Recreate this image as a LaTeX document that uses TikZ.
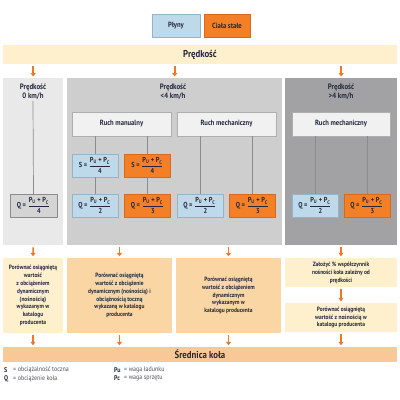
\documentclass[tikz,border=0pt]{standalone}
\usepackage{amsmath}
\usepackage{fontspec}
\setmainfont{PT Sans}[FakeStretch=0.88]
\usetikzlibrary{
  arrows.meta,
  positioning
}
\definecolor{ink}{RGB}{35,40,60}
\definecolor{plyn}{RGB}{190,218,234}
\definecolor{plyndraw}{RGB}{150,180,200}
\definecolor{stal}{RGB}{243,128,38}
\definecolor{staldraw}{RGB}{215,105,30}
\definecolor{pale}{RGB}{254,240,205}
\definecolor{peach}{RGB}{251,214,165}
\definecolor{sred}{RGB}{250,200,150}
\definecolor{colA}{RGB}{233,233,233}
\definecolor{colB}{RGB}{206,206,206}
\definecolor{colC}{RGB}{162,162,165}
\definecolor{ruchfill}{RGB}{241,241,241}
\definecolor{ruchdraw}{RGB}{175,175,175}
\definecolor{qgray}{RGB}{212,212,212}
\definecolor{wire}{RGB}{140,140,140}
\definecolor{arrow}{RGB}{236,120,40}
\definecolor{legtext}{RGB}{80,80,95}
\newcommand{\pu}{P\textsubscript{U}}
\newcommand{\pc}{P\textsubscript{C}}
\newcommand{\frm}[2]{#1 = $\genfrac{}{}{0.4pt}{0}{\text{\pu{} + \pc}}{\text{#2}}$}

\tikzset{
  txt/.style={text=ink, font=\bfseries\fontsize{7.5}{9}\selectfont},
  band/.style={txt, font=\bfseries\fontsize{10}{12}\selectfont, minimum width=394pt, inner sep=0pt},
  colbox/.style={inner sep=0pt, anchor=north west},
  head/.style={txt, align=center, font=\bfseries\fontsize{7.8}{9.5}\selectfont},
  ruch/.style={txt, draw=ruchdraw, fill=ruchfill, minimum width=99pt, minimum height=24pt, inner sep=0pt},
  fbox/.style={text=ink, font=\bfseries\fontsize{7.2}{7.5}\selectfont, minimum width=46pt, minimum height=23pt, inner sep=0pt},
  plynbox/.style={fbox, draw=plyndraw, fill=plyn},
  stalbox/.style={fbox, draw=staldraw, fill=stal},
  note/.style={text=ink, font=\bfseries\fontsize{6.2}{7.9}\selectfont, align=center, inner sep=0pt},
  wirel/.style={draw=wire, line width=0.7pt},
  arr/.style={-{Triangle[width=5pt,length=3.5pt]}, line width=1.6pt, draw=arrow, shorten <=2pt, shorten >=1.5pt},
  legk/.style={text=ink, font=\bfseries\fontsize{6.8}{8}\selectfont, anchor=west, inner sep=0pt},
  legv/.style={text=legtext, font=\fontsize{6.8}{8}\selectfont, anchor=west, inner sep=0pt}
}

\begin{document}
\begin{tikzpicture}[x=1pt, y=-1pt]
  \useasboundingbox[fill=white] (0,0) rectangle (400,400);

  % legend on top
  \node[txt, draw=plyndraw, fill=plyn, minimum width=48pt, minimum height=23pt, inner sep=0pt] (plyny) at (176,25.5) {Płyny};
  \node[txt, draw=staldraw, fill=stal, minimum width=46pt, minimum height=23pt, inner sep=0pt] (stale) at (227,25.5) {Ciała stałe};

  % speed band and columns
  \node[band, fill=pale, minimum height=19pt] (predkosc) at (200,54.5) {Prędkość};
  \node[colbox, fill=colA, minimum width=60pt, minimum height=167pt] (c1) at (3,78) {};
  \node[colbox, fill=colB, minimum width=215pt, minimum height=167pt] (c2) at (67,78) {};
  \node[colbox, fill=colC, minimum width=112pt, minimum height=167pt] (c3) at (285,78) {};

  \draw[arr] (predkosc.south -| c1.north) -- (c1.north);
  \draw[arr] (predkosc.south -| c2.north) -- (c2.north);
  \draw[arr] (predkosc.south -| c3.north) -- (c3.north);

  \node[head] (h1) at (33,91.5) {Prędkość\\0 km/h};
  \node[head] (h2) at (173,91.5) {Prędkość\\<4 km/h};
  \node[head] (h3) at (341,91.5) {Prędkość\\>4 km/h};

  \node[ruch] (manual) at (121.5,124) {Ruch manualny};
  \node[ruch] (mech) at (226.5,124) {Ruch mechaniczny};
  \node[ruch, minimum width=98pt] (mech2) at (341,124) {Ruch mechaniczny};

  % formulas
  \node[fbox, draw=wire, fill=qgray, minimum width=47pt] (q0) at (33.5,205.5) {\frm{Q}{4}};
  \node[plynbox] (s1) at (95,165.5) {\frm{S}{4}};
  \node[stalbox] (s2) at (147.5,165.5) {\frm{S}{4}};
  \node[plynbox] (q1) at (95,205.5) {\frm{Q}{2}};
  \node[stalbox] (q2) at (147.5,205.5) {\frm{Q}{3}};
  \node[plynbox] (q3) at (200,205.5) {\frm{Q}{2}};
  \node[stalbox] (q4) at (252.5,205.5) {\frm{Q}{3}};
  \node[plynbox] (q5) at (315,205.5) {\frm{Q}{2}};
  \node[stalbox] (q6) at (367,205.5) {\frm{Q}{3}};

  \draw[wirel] (h1.south) ++(0,-2) -- (q0.north);
  \draw[wirel] (manual.south -| s1.north) -- (s1.north);
  \draw[wirel] (manual.south -| s2.north) -- (s2.north);
  \draw[wirel] (s1) -- (q1);
  \draw[wirel] (s2) -- (q2);
  \draw[wirel] (mech.south -| q3.north) -- (q3.north);
  \draw[wirel] (mech.south -| q4.north) -- (q4.north);
  \draw[wirel] (mech2.south -| q5.north) -- (q5.north);
  \draw[wirel] (mech2.south -| q6.north) -- (q6.north);

  % what to compare
  \node[note, fill=pale, minimum width=60pt, minimum height=75pt] (b1) at (33,295.5)
    {Porównać osiągniętą\\wartość\\z obciążeniem\\dynamicznym\\(nośnością)\\wykazanym w\\katalogu\\producenta};
  \node[note, fill=peach, minimum width=105pt, minimum height=75pt] (b2) at (119.5,295.5)
    {Porównać osiągniętą\\wartość z obciążenie\\dynamicznym (nośnością) i\\obciążnością toczną\\wykazaną w katalogu\\producenta};
  \node[note, fill=peach, minimum width=105pt, minimum height=75pt] (b3) at (228.5,295.5)
    {Porównać osiągniętą\\wartość z obciążeniem\\dynamicznym\\wykazanym w\\katalogu producenta};
  \node[note, fill=pale, minimum width=112pt, minimum height=29pt] (b4) at (341,272.5)
    {Założyć \% współczynnik\\nośności koła zależny od\\prędkości};
  \node[note, fill=pale, minimum width=112pt, minimum height=29pt] (b5) at (341,317.5)
    {Porównać osiągniętą\\wartość z nośnością w\\katalogu producenta};

  \draw[arr] (c1.south) -- (b1.north);
  \draw[arr] (c2.south -| b2.north) -- (b2.north);
  \draw[arr] (c2.south -| b3.north) -- (b3.north);
  \draw[arr] (c3.south -| b4.north) -- (b4.north);
  \draw[arr] (b4) -- (b5);

  % wheel diameter
  \node[band, fill=sred, minimum height=15pt] (srednica) at (200,354.5) {Średnica koła};
  \draw[arr] (b1.south) -- (b1.south |- srednica.north);
  \draw[arr] (b2.south) -- (b2.south |- srednica.north);
  \draw[arr] (b3.south) -- (b3.south |- srednica.north);
  \draw[arr] (b5.south) -- (b5.south |- srednica.north);

  % key
  \node[legk] (ks) at (4,370) {S};
  \node[legv] (ksv) at (13,370) {= obciążalność toczna};
  \node[legk] (kq) at (4,378.5) {Q};
  \node[legv] (kqv) at (13,378.5) {= obciążenie koła};
  \node[legk] (kpu) at (114,370) {Pu};
  \node[legv] (kpuv) at (124,370) {= waga ładunku};
  \node[legk] (kpc) at (114,378.5) {Pc};
  \node[legv] (kpcv) at (124,378.5) {= waga sprzętu};
\end{tikzpicture}
\end{document}
